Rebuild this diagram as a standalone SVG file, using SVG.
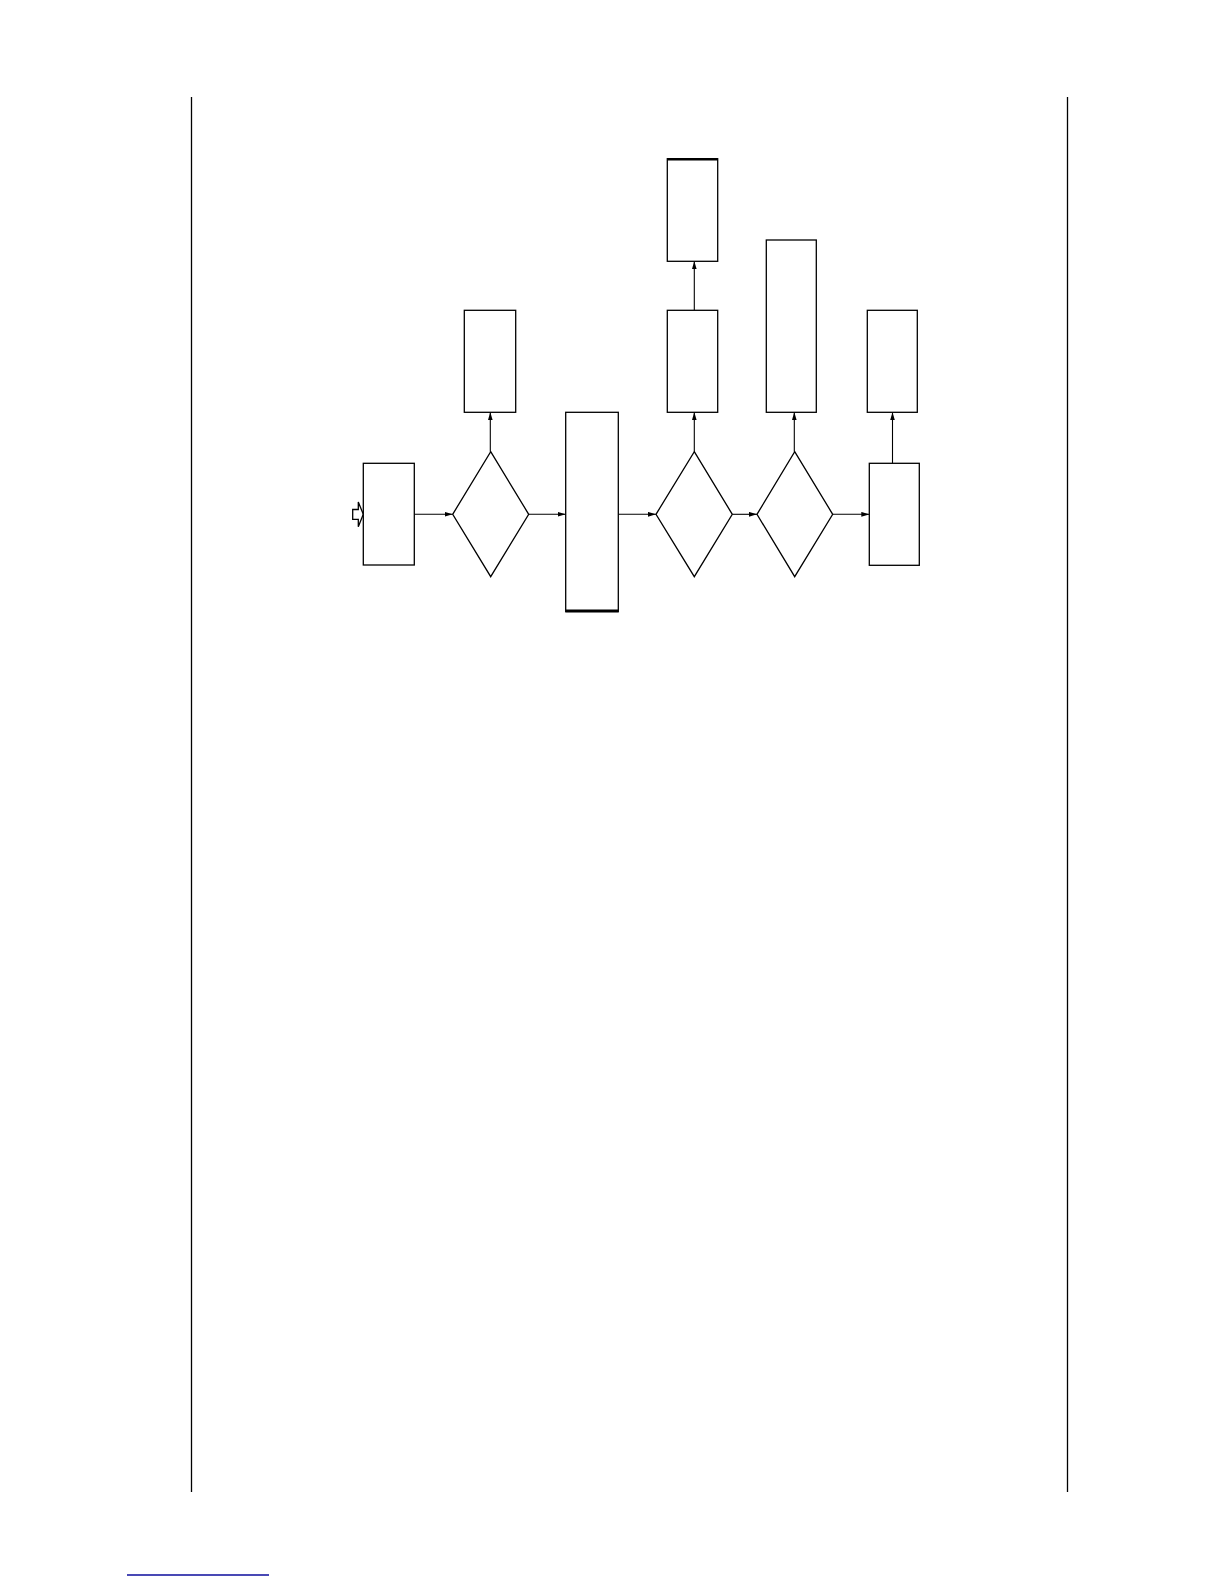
<svg xmlns="http://www.w3.org/2000/svg" width="1224" height="1584" viewBox="0 0 1224 1584">
<style>
.n{fill:#fff;stroke:#000;stroke-width:1.3}
.c{fill:none;stroke:#000;stroke-width:1.1}
.m{stroke:#000;stroke-width:1.3}
.thick{stroke:#000;stroke-width:2.6}
</style>
<defs>
<marker id="ah" viewBox="0 0 10 6" refX="10" refY="3" markerWidth="8" markerHeight="5" markerUnits="userSpaceOnUse" orient="auto">
<path d="M0,0 L10,3 L0,6 Z" fill="#000"/>
</marker>
</defs>
<rect width="1224" height="1584" fill="#fff"/>
<g id="margins">
<line class="m" x1="191.5" y1="97" x2="191.5" y2="1492"/>
<line class="m" x1="1067.5" y1="97" x2="1067.5" y2="1492"/>
<line x1="127" y1="1575" x2="269" y2="1575" stroke="#0c0c9c" stroke-width="1.3"/>
</g>
<g id="start-arrow">
<path d="M352.7,509.5 L358.3,509.5 L358.3,502 L363.3,514.3 L358.3,526.7 L358.3,519.3 L352.7,519.3 Z" fill="#fff" stroke="#000" stroke-width="1.3"/>
</g>
<g id="connectors">
<line class="c" x1="414.3" y1="514.3" x2="452.7" y2="514.3" marker-end="url(#ah)"/>
<line class="c" x1="490.3" y1="451.7" x2="490.3" y2="412.3" marker-end="url(#ah)"/>
<line class="c" x1="528.7" y1="514.3" x2="565.7" y2="514.3" marker-end="url(#ah)"/>
<line class="c" x1="618.3" y1="514.3" x2="656" y2="514.3" marker-end="url(#ah)"/>
<line class="c" x1="694.3" y1="451.7" x2="694.3" y2="412.3" marker-end="url(#ah)"/>
<line class="c" x1="694.3" y1="310.3" x2="694.3" y2="261.3" marker-end="url(#ah)"/>
<line class="c" x1="732.3" y1="514.3" x2="757" y2="514.3" marker-end="url(#ah)"/>
<line class="c" x1="794.3" y1="451.7" x2="794.3" y2="412.3" marker-end="url(#ah)"/>
<line class="c" x1="832.7" y1="514.3" x2="869.3" y2="514.3" marker-end="url(#ah)"/>
<line class="c" x1="892.5" y1="463.3" x2="892.5" y2="412.3" marker-end="url(#ah)"/>
</g>
<g id="start-box"><rect class="n" x="363.3" y="463.3" width="51" height="101.7"/></g>
<g id="decision-1"><polygon class="n" points="490.7,451.7 528.7,514.3 490.7,576.7 452.7,514.3"/></g>
<g id="box-1-up"><rect class="n" x="464.3" y="310.3" width="51.4" height="102"/></g>
<g id="tall-box"><rect class="n" x="565.7" y="412.3" width="52.6" height="199.4"/><line class="thick" x1="565.7" y1="610.9" x2="618.3" y2="610.9"/></g>
<g id="decision-2"><polygon class="n" points="694.3,451.7 732.3,514.3 694.3,576.7 656,514.3"/></g>
<g id="box-2-up"><rect class="n" x="667.3" y="310.3" width="50.4" height="102"/></g>
<g id="box-2-top"><rect class="n" x="667.3" y="158.7" width="50.4" height="102.6"/><line class="thick" x1="667.3" y1="159.3" x2="717.7" y2="159.3"/></g>
<g id="decision-3"><polygon class="n" points="794.7,451.7 832.7,514.3 794.7,576.7 757,514.3"/></g>
<g id="box-3-up"><rect class="n" x="766.3" y="240" width="50" height="172.3"/></g>
<g id="end-box"><rect class="n" x="869.3" y="463.3" width="50" height="102"/></g>
<g id="box-4-up"><rect class="n" x="867.3" y="310.3" width="50" height="102"/></g>
</svg>
